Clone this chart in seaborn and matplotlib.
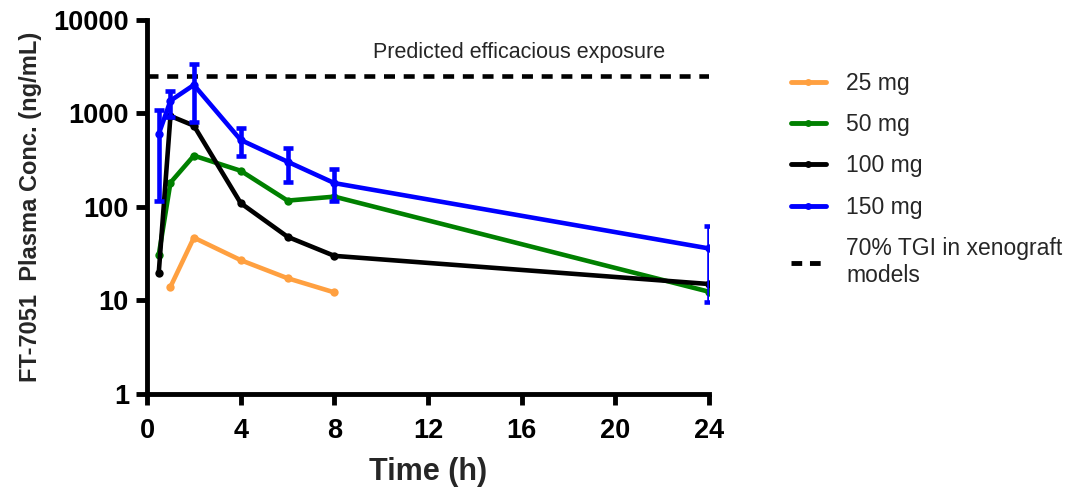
import matplotlib
matplotlib.use("Agg")
import matplotlib.pyplot as plt
import pandas as pd
import seaborn as sns
import numpy as np
from matplotlib.lines import Line2D

sns.set_style("ticks")
plt.rcParams['font.family'] = ['Liberation Sans', 'DejaVu Sans']

# data
t_25 = [1, 2, 4, 6, 8]
c_25 = [14, 47, 27, 17.3, 12.2]
t_50 = [0.5, 1, 2, 4, 6, 8, 24]
c_50 = [30.7, 182, 354, 244, 117, 129, 12.4]
t_100 = [0.5, 1, 2, 4, 6, 8, 24]
c_100 = [19.8, 940, 741, 110, 48, 30, 15]
t_150 = [0.5, 1, 2, 4, 6, 8, 24]
c_150 = [603, 1370, 2018, 521, 305, 180, 36]
hi_150 = [1100, 1750, 3380, 692, 425, 255, 62.6]
lo_150 = [116, 925, 817, 354, 187, 116, 9.7]
threshold = 2500

doses = ["25 mg", "50 mg", "100 mg", "150 mg"]
colors = ["#FFA040", "#008000", "#000000", "#0000FF"]

df = pd.concat([
    pd.DataFrame({"time": t_25, "conc": c_25, "dose": "25 mg"}),
    pd.DataFrame({"time": t_50, "conc": c_50, "dose": "50 mg"}),
    pd.DataFrame({"time": t_100, "conc": c_100, "dose": "100 mg"}),
    pd.DataFrame({"time": t_150, "conc": c_150, "dose": "150 mg"}),
])

fig = plt.figure(figsize=(10.78, 4.91), dpi=100)
ax = fig.add_axes([0.1364, 0.1976, 0.5213, 0.7617])

sns.lineplot(ax=ax, data=df, x="time", y="conc", hue="dose", hue_order=doses,
             palette=colors, marker="o", markersize=6, markeredgewidth=0,
             linewidth=3.3, errorbar=None, legend=False)

c = np.array(c_150)
yerr = [c - np.array(lo_150), np.array(hi_150) - c]
ax.errorbar(t_150, c_150, yerr=yerr, fmt="none", ecolor="#0000FF",
            elinewidth=3.3, capsize=3.5, capthick=3.3, zorder=5)

ax.axhline(threshold, color="black", linestyle=(0, (2.4, 1.9)), linewidth=3.3)
ax.text(15.9, 3500, "Predicted efficacious exposure", ha="center", va="bottom", fontsize=15.5)

ax.set_yscale("log")
ax.set_ylim(1, 10000)
ax.set_xlim(0, 24)
ax.set_yticks([1, 10, 100, 1000, 10000])
ax.set_yticklabels(["1", "10", "100", "1000", "10000"])
ax.minorticks_off()
ax.set_xticks([0, 4, 8, 12, 16, 20, 24])

for s in ["top", "right"]:
    ax.spines[s].set_visible(False)
for s in ["left", "bottom"]:
    ax.spines[s].set_linewidth(3.5)
    ax.spines[s].set_color("black")
ax.tick_params(width=3.5, length=8, labelsize=19.5, colors="black")
ax.tick_params(axis="x", pad=9)
ax.tick_params(axis="y", pad=5)
for lab in ax.get_xticklabels() + ax.get_yticklabels():
    lab.set_fontweight("bold")

ax.set_xlabel("Time (h)", fontsize=22, fontweight="bold", labelpad=10)
ax.set_ylabel("FT-7051  Plasma Conc. (ng/mL)", fontsize=17, fontweight="bold", labelpad=8)

handles = [Line2D([], [], color=col, marker="o", markersize=5, markeredgewidth=0, linewidth=3.5)
           for col in colors]
handles.append(Line2D([], [], color="black", linestyle=(0, (2.2, 1.6)), linewidth=3.5))
labels = doses + ["70% TGI in xenograft\nmodels"]
fig.legend(handles, labels, loc="upper left", bbox_to_anchor=(0.7146, 0.896),
           frameon=False, fontsize=16.5, handlelength=1.53, labelspacing=0.8,
           handletextpad=0.87)

fig.savefig("out.png", dpi=100)
